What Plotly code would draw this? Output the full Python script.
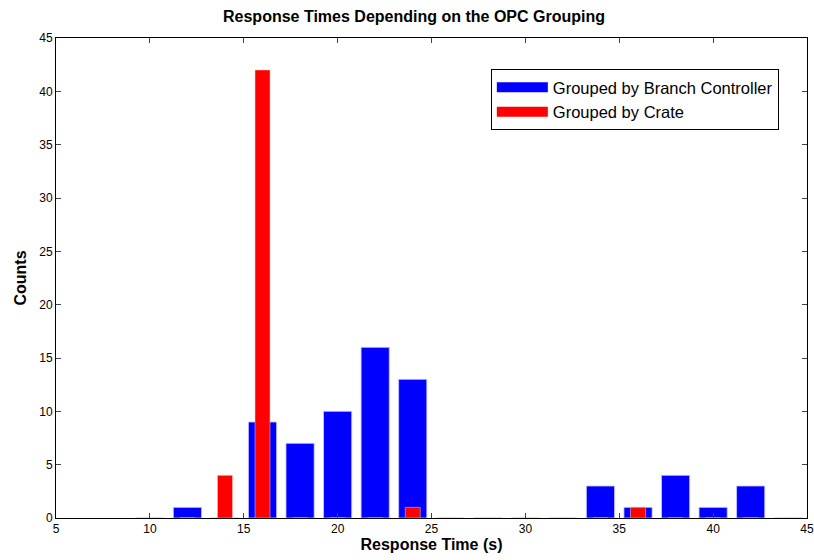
import plotly.graph_objects as go

bin_centers = [10, 12, 14, 16, 18, 20, 22, 24, 26, 28, 30, 32, 34, 36, 38, 40, 42, 44]
branch_counts = [0, 1, 0, 9, 7, 10, 16, 13, 0, 0, 0, 0, 3, 1, 4, 1, 3, 0]
crate_counts = [0, 0, 4, 42, 0, 0, 0, 1, 0, 0, 0, 0, 0, 1, 0, 0, 0, 0]
x_ticks = [5, 10, 15, 20, 25, 30, 35, 40, 45]
y_ticks = [0, 5, 10, 15, 20, 25, 30, 35, 40, 45]
series_names = ["Grouped by Branch Controller", "Grouped by Crate"]

FONT = "Liberation Sans, Arial, sans-serif"
BLUE, RED = "#0000ff", "#ff0000"
W, H = 814, 560

fig = go.Figure()
fig.add_trace(go.Bar(
    x=bin_centers, y=branch_counts, width=1.5, name=series_names[0],
    showlegend=False, legendgroup="a",
    marker=dict(color=BLUE, line=dict(color="#c8c8ff", width=0.8)),
))
fig.add_trace(go.Bar(
    x=bin_centers, y=crate_counts, width=0.8, name=series_names[1],
    showlegend=False, legendgroup="b",
    marker=dict(color=RED, line=dict(color="#ffc8c8", width=0.5)),
))
# legend swatches (wide filled rectangles as in the original)
for name, col, grp in [(series_names[0], BLUE, "a"), (series_names[1], RED, "b")]:
    fig.add_trace(go.Scatter(
        x=[None], y=[None], mode="lines", name=name, legendgroup=grp,
        line=dict(color=col, width=18), hoverinfo="skip",
    ))

fig.update_layout(
    barmode="overlay",
    width=W, height=H,
    margin=dict(l=56, r=7, t=38, b=41.5, autoexpand=False),
    paper_bgcolor="white", plot_bgcolor="white",
    font=dict(family=FONT, size=12, color="black"),
    title=dict(text="<b>Response Times Depending on the OPC Grouping</b>",
               x=414 / W, xanchor="center", y=1 - 16 / H, yanchor="middle",
               font=dict(size=16, family=FONT)),
    legend=dict(x=0.579, y=0.9355, xanchor="left", yanchor="top",
                bordercolor="black", borderwidth=1, bgcolor="white",
                font=dict(size=16.5, family=FONT), tracegroupgap=0,
                itemwidth=51),
    showlegend=True,
)
fig.update_xaxes(
    range=[5, 45], tickvals=x_ticks, ticks="inside", ticklen=5,
    showline=True, linecolor="black", linewidth=1, mirror="allticks",
    showgrid=False, zeroline=False, tickfont=dict(size=12), automargin=False,
    title=dict(text="<b>Response Time (s)</b>", font=dict(size=16), standoff=3),
)
fig.update_yaxes(
    range=[0, 45], tickvals=y_ticks, ticks="inside", ticklen=5,
    showline=True, linecolor="black", linewidth=1, mirror="allticks",
    showgrid=False, zeroline=False, tickfont=dict(size=12), automargin=False,
    title=dict(text="<b>Counts</b>", font=dict(size=16), standoff=8),
)

# remove the browser's default 8px body margin so the figure fills the window
fig.write_html("out.html", config={"displayModeBar": False},
               post_script="document.body.style.margin='0';document.body.style.overflow='hidden';")
